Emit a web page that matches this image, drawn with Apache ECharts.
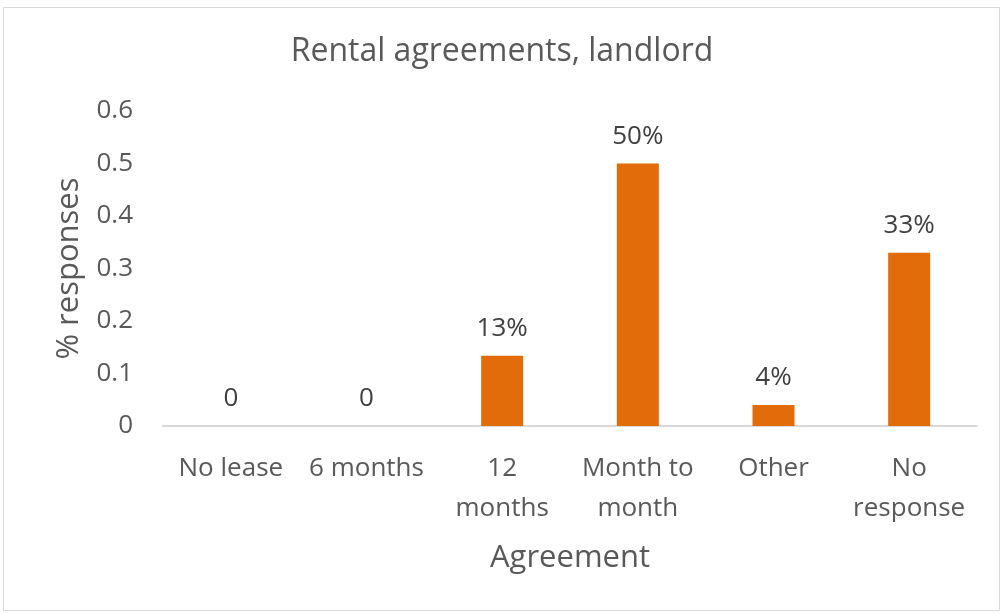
<!DOCTYPE html>
<html>
<head>
<meta charset="utf-8">
<script src="https://cdn.jsdelivr.net/npm/echarts@6/dist/echarts.min.js"></script>
<style>
  html, body { margin: 0; padding: 0; background: #fff; }
  #chart { width: 1004px; height: 615px; }
</style>
</head>
<body>
<div id="chart"></div>
<script>
// data
var categories = ['No lease', '6 months', '12\nmonths', 'Month to\nmonth', 'Other', 'No\nresponse']
var shares = [0, 0, 0.134, 0.5, 0.04, 0.33]
var yTicks = [0, 0.1, 0.2, 0.3, 0.4, 0.5, 0.6]

var font = 'Open Sans'

var chart = echarts.init(document.getElementById('chart'))

chart.setOption({
  backgroundColor: '#fff',
  animation: false,
  graphic: [
    {
      type: 'rect',
      shape: { x: 3.5, y: 7.5, width: 996, height: 603 },
      style: { fill: 'none', stroke: '#d9d9d9', lineWidth: 1 }
    }
  ],
  title: {
    text: 'Rental agreements, landlord',
    left: 'center',
    top: 31,
    textStyle: {
      fontFamily: font,
      fontSize: 32,
      fontWeight: 'normal',
      color: '#595959'
    }
  },
  grid: {
    left: 163,
    right: 27,
    top: 111,
    bottom: 189
  },
  xAxis: {
    type: 'category',
    data: categories,
    name: 'Agreement',
    nameLocation: 'middle',
    nameGap: 117,
    nameTextStyle: {
      fontFamily: font,
      fontSize: 31,
      color: '#595959'
    },
    axisLine: { lineStyle: { color: '#d9d9d9', width: 2 } },
    axisTick: { show: false },
    axisLabel: {
      fontFamily: font,
      fontSize: 26,
      color: '#595959',
      lineHeight: 40,
      margin: 23,
      interval: 0
    }
  },
  yAxis: {
    type: 'value',
    min: yTicks[0],
    max: yTicks[yTicks.length - 1],
    interval: 0.1,
    name: '% responses',
    nameLocation: 'middle',
    nameGap: 78,
    nameTextStyle: {
      fontFamily: font,
      fontSize: 31,
      color: '#595959'
    },
    axisLine: { show: false },
    axisTick: { show: false },
    splitLine: { show: false },
    axisLabel: {
      fontFamily: font,
      fontSize: 26,
      color: '#595959',
      margin: 30,
      formatter: function (v) {
        return String(Math.round(v * 10) / 10)
      }
    }
  },
  series: [
    {
      type: 'bar',
      data: shares,
      barWidth: 42,
      itemStyle: { color: '#e36c0a' },
      label: {
        show: true,
        position: 'top',
        distance: 14,
        fontFamily: font,
        fontSize: 26,
        color: '#404040',
        formatter: function (p) {
          return p.value === 0 ? '0' : Math.round(p.value * 100) + '%'
        }
      }
    }
  ]
})
</script>
</body>
</html>
